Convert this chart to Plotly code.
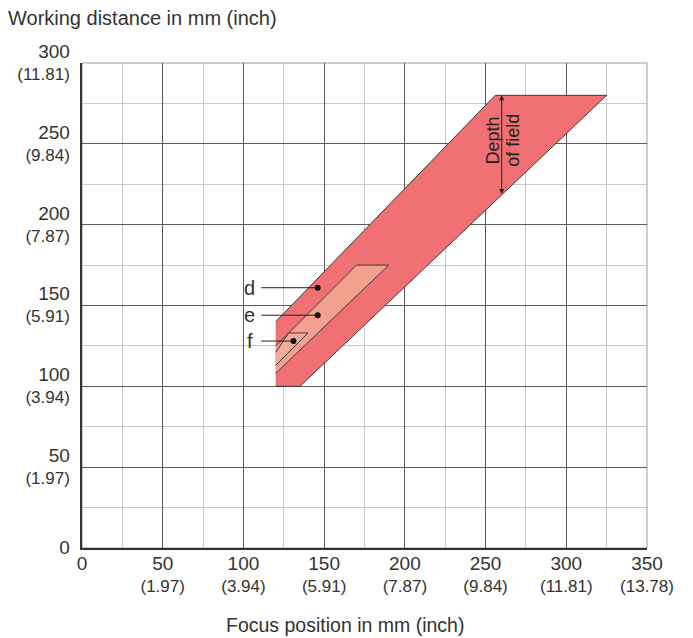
import plotly.graph_objects as go

# Data
x_ticks = [0, 50, 100, 150, 200, 250, 300, 350]
x_tick_inch = ["", "(1.97)", "(3.94)", "(5.91)", "(7.87)", "(9.84)", "(11.81)", "(13.78)"]
y_ticks = [0, 50, 100, 150, 200, 250, 300]
y_tick_inch = ["", "(1.97)", "(3.94)", "(5.91)", "(7.87)", "(9.84)", "(11.81)"]

d_x = [120, 135, 325, 256, 120]
d_y = [100, 100, 280, 280, 140]
e_x = [120, 190, 170, 120]
e_y = [108, 175, 175, 125]
f_x = [120, 140, 128, 120]
f_y = [113, 133, 133, 121]

labels = ["d", "e", "f"]
label_x = [104, 104, 104]
label_y = [161, 144, 128]
line_start_x = [111, 111, 111]
dot_x = [146, 146, 131]
dot_y = [161, 144, 128]

dof_x = 260
dof_top = 280
dof_bottom = 218

FONT = "Liberation Sans"
TXT = "#333333"

def tick_text(vals, inch):
    out = []
    for v, i in zip(vals, inch):
        if i:
            out.append(f"<span style='font-size:19px'>{v}</span><br>{i}")
        else:
            out.append(f"<span style='font-size:19px'>{v}</span>")
    return out

fig = go.Figure()

fill_line = dict(color="#3a3a3a", width=1)
fig.add_trace(go.Scatter(x=d_x, y=d_y, fill="toself", fillcolor="#f07074",
                         mode="lines", line=fill_line, hoverinfo="skip"))
fig.add_trace(go.Scatter(x=e_x, y=e_y, fill="toself", fillcolor="#f4a08f",
                         mode="lines", line=fill_line, hoverinfo="skip"))
fig.add_trace(go.Scatter(x=f_x, y=f_y, fill="toself", fillcolor="#f5ab9a",
                         mode="lines", line=fill_line, hoverinfo="skip"))

for i in range(len(labels)):
    fig.add_trace(go.Scatter(x=[line_start_x[i], dot_x[i]], y=[dot_y[i], dot_y[i]],
                             mode="lines", line=dict(color="#222222", width=1),
                             hoverinfo="skip"))
    fig.add_trace(go.Scatter(x=[dot_x[i]], y=[dot_y[i]], mode="markers",
                             marker=dict(color="#111111", size=6), hoverinfo="skip"))
    fig.add_annotation(x=label_x[i], y=label_y[i], text=labels[i], showarrow=False,
                       font=dict(family=FONT, size=20, color=TXT), xanchor="center", yanchor="middle")

# depth of field arrow
fig.add_annotation(x=dof_x, y=dof_top, ax=dof_x, ay=dof_bottom, xref="x", yref="y",
                   axref="x", ayref="y", text="", showarrow=True, arrowhead=2,
                   arrowsize=1, arrowwidth=1, arrowcolor="#222222", arrowside="end+start")
fig.add_annotation(x=dof_x - 5.5, y=(dof_top + dof_bottom) / 2 + 3, text="Depth", textangle=-90,
                   showarrow=False, font=dict(family=FONT, size=18, color="#222222"))
fig.add_annotation(x=dof_x + 6.5, y=(dof_top + dof_bottom) / 2 + 3, text="of field", textangle=-90,
                   showarrow=False, font=dict(family=FONT, size=18, color="#222222"))

fig.add_annotation(x=0, y=1, xref="paper", yref="paper", xshift=-76, yshift=58,
                   text="Working distance in mm (inch)", showarrow=False, xanchor="left",
                   yanchor="top", font=dict(family=FONT, size=20, color=TXT))

fig.add_annotation(x=0.4655, y=0, xref="paper", yref="paper", yshift=-64,
                   text="Focus position in mm (inch)", showarrow=False, xanchor="center",
                   yanchor="top", font=dict(family=FONT, size=19.5, color=TXT))

fig.add_shape(type="rect", xref="paper", yref="paper", x0=0, x1=1, y0=0, y1=1,
              line=dict(color="#9a9a9a", width=1), layer="below")

fig.update_layout(
    width=693, height=638,
    margin=dict(l=74, r=54, t=55, b=98),
    plot_bgcolor="white", paper_bgcolor="white",
    showlegend=False,
    font=dict(family=FONT, size=17, color=TXT),
    xaxis=dict(range=[0, 350], tickvals=x_ticks, ticktext=tick_text(x_ticks, x_tick_inch),
               automargin=False,
               showgrid=True, gridcolor="#5a5a5a", gridwidth=1,
               minor=dict(dtick=25, tick0=0, showgrid=True, gridcolor="#c8c8c8", gridwidth=1),
               showline=True, linecolor="#333333", linewidth=1.5, zeroline=False,
               ticks="", tickfont=dict(size=17, color=TXT)),
    yaxis=dict(range=[0, 300], tickvals=y_ticks, ticktext=tick_text(y_ticks, y_tick_inch),
               automargin=False,
               showgrid=True, gridcolor="#5a5a5a", gridwidth=1,
               minor=dict(dtick=25, tick0=0, showgrid=True, gridcolor="#c8c8c8", gridwidth=1),
               showline=True, linecolor="#333333", linewidth=1.5, zeroline=False,
               ticks="outside", ticklen=7, tickcolor="rgba(0,0,0,0)",
               tickfont=dict(size=17, color=TXT)),
)

fig.write_html("out.html")
